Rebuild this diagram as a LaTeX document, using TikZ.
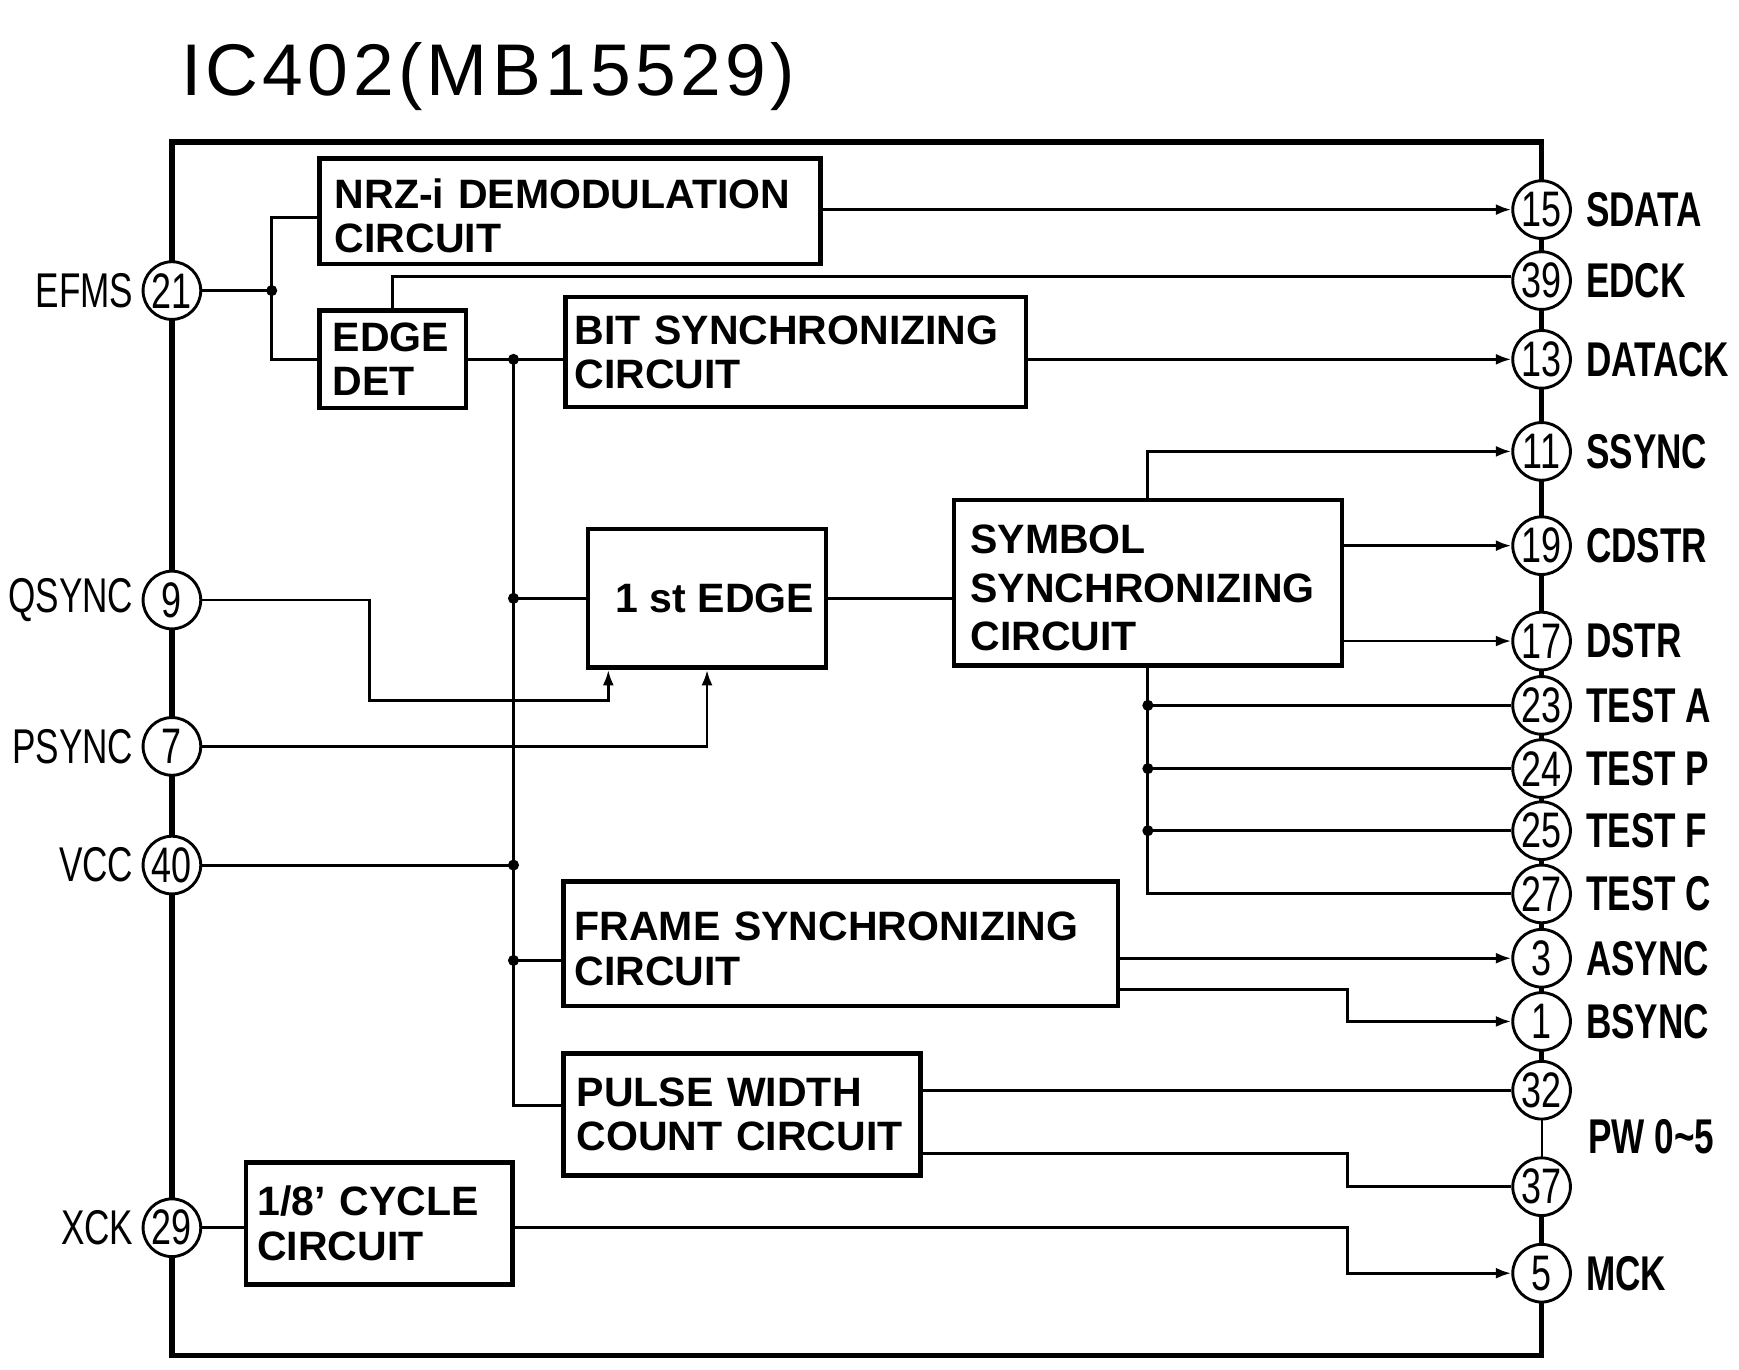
\documentclass[tikz,border=0pt]{standalone}
\usepackage{fontspec}
\setmainfont{Liberation Sans}
\newfontfamily\condfam[FakeStretch=0.72]{Liberation Sans}
\newfontfamily\ttlfam[LetterSpace=6]{Liberation Sans}
\usetikzlibrary{arrows.meta}
\newcommand\myboxfont{\bfseries\fontsize{37}{40}\selectfont}
\newcommand\mypinfont{\condfam\fontsize{45}{48}\selectfont}
\newcommand\myrlabfont{\condfam\bfseries\fontsize{44}{48}\selectfont}
\newcommand\myllabfont{\condfam\fontsize{44}{48}\selectfont}
\newcommand\topstrut{\rule{0pt}{35pt}}
\begin{document}
\begin{tikzpicture}[x=1pt,y=-1pt,
  wire/.style={line width=2.6pt},
  arr/.style={wire,-{Latex[length=14pt,width=10pt]}},
  blk/.style={draw,line width=4pt,align=left,inner ysep=0pt,font=\myboxfont},
  pinc/.style={circle,draw,fill=white,line width=2.6pt,minimum size=52pt,inner sep=0pt,font=\mypinfont},
  rlab/.style={anchor=west,inner sep=0pt,font=\myrlabfont},
  llab/.style={anchor=east,inner sep=0pt,font=\myllabfont}
]
\useasboundingbox (0,0) rectangle (1568,1235);
% title
\node[anchor=base west,inner sep=0pt,font=\ttlfam\fontsize{66}{70}\selectfont] (title) at (163,86) {IC402(MB15529)};
% outer frame
\draw[line width=5pt] (1390,189) |- (155,128) -- (155,1222) -| (1390,1148);
\draw[line width=5pt] (1390,189) -- (1390,983);
\draw[line width=1.8pt] (1390,983) -- (1390,1070);
\draw[line width=5pt] (1390,1070) -- (1390,1148);
% blocks
\node[blk,minimum width=452pt,minimum height=95pt,inner xsep=14pt,text width=424pt] (nrz) at (514,190.5) {\topstrut NRZ-i DEMODULATION\\CIRCUIT};
\node[blk,minimum width=132pt,minimum height=88pt,inner xsep=12pt,text width=108pt] (edge) at (354,324) {EDGE\\DET};
\node[blk,minimum width=415pt,minimum height=99pt,inner xsep=8pt,text width=399pt] (bit) at (717.5,317.5) {BIT SYNCHRONIZING\\CIRCUIT};
\node[blk,minimum width=215pt,minimum height=125pt,inner xsep=0pt,align=center] (first) at (637.5,539.5) {\hspace*{14pt}1 st EDGE};
\node[blk,minimum width=350pt,minimum height=149pt,inner xsep=15pt,text width=320pt,font=\bfseries\fontsize{37}{44}\selectfont] (sym) at (1035,525.5) {\topstrut SYMBOL\\SYNCHRONIZING\\CIRCUIT};
\node[blk,minimum width=500pt,minimum height=112pt,inner xsep=10pt,text width=480pt] (frame) at (758,851) {\topstrut FRAME SYNCHRONIZING\\CIRCUIT};
\node[blk,minimum width=322pt,minimum height=110pt,inner xsep=12pt,text width=298pt] (pulse) at (669,1005) {PULSE WIDTH\\COUNT CIRCUIT};
\node[blk,minimum width=240pt,minimum height=110pt,inner xsep=10pt,text width=220pt] (cyc) at (342,1103) {1/8' CYCLE\\CIRCUIT};
% left pins
\node[pinc] (p21) at (155,262) {21};
\node[pinc] (p9) at (155,541) {9};
\node[pinc] (p7) at (155,673) {7};
\node[pinc] (p40) at (155,780) {40};
\node[pinc] (p29) at (155,1107) {29};
\node[llab] (lEFMS) at (p21.west) {EFMS\,};
\node[llab] (lQSYNC) at (p9.west) {QSYNC\,};
\node[llab] (lPSYNC) at (p7.west) {PSYNC\,};
\node[llab] (lVCC) at (p40.west) {VCC\,};
\node[llab] (lXCK) at (p29.west) {XCK\,};
% right pins
\foreach \n/\y/\t in {15/189/SDATA,39/253/EDCK,13/324/DATACK,11/407/SSYNC,19/492/CDSTR,17/578/DSTR,23/636/TEST A,24/693/TEST P,25/749/TEST F,27/806/TEST C,3/864/ASYNC,1/921/BSYNC,5/1148/MCK}{
  \node[pinc] (p\n) at (1390,\y) {\n};
  \node[rlab] (l\n) at (1430,\y) {\t};
}
\node[pinc] (p32) at (1390,983) {32};
\node[pinc] (p37) at (1390,1070) {37};
\node[rlab] (lPW) at (1432,1025) {PW 0\char`~5};
% junction coordinates
\coordinate (bus) at (463,0);
\coordinate (jE) at (245,262);
\coordinate (jB) at (edge.east -| bus);
\coordinate (jQ) at (first.west -| bus);
\coordinate (jV) at (p40 -| bus);
\coordinate (jF) at (463,866);
\coordinate (q1) at (333,632);
\coordinate (qin) at ([xshift=-89pt]first.south);
\coordinate (b1) at (1215,892);
\coordinate (b37) at (1215,1040);
\coordinate (b5) at (1215,1107);
% wires
\draw[wire] (p21) -- (jE);
\draw[wire] ([yshift=-5.5pt]nrz.west) -| (jE) |- (edge.west);
\draw[arr] (nrz.east |- p15) -- (p15);
\draw[wire] (edge.north) |- ([yshift=4pt]p39.west);
\draw[wire] (edge.east) -- (edge.east -| bit.west);
\draw[arr] (bit.east |- p13) -- (p13);
\draw[wire] (jB) |- ([yshift=8pt]pulse.west);
\draw[wire] (jQ) -- (first.west);
\draw[wire] (p40) -- (jV);
\draw[wire] (jF) -- (jF -| frame.west);
\draw[arr] (p9) -| (q1) -| (qin);
\draw[arr] (p7) -| (first.south);
\draw[wire] (first.east) -- (first.east -| sym.west);
\draw[arr] (sym.north) |- (p11);
\draw[arr] (sym.east |- p19) -- (p19);
\draw[arr] (sym.east |- p17) -- (p17);
\draw[wire] (sym.south) |- (p27);
\foreach \p in {p23,p24,p25}{
  \draw[wire] (sym.south |- \p) -- (\p);
  \fill (sym.south |- \p) circle (5pt);
}
\draw[arr] (frame.east |- p3) -- (p3);
\draw[arr] (frame.east |- b1) -- (b1) |- (p1);
\draw[wire] (pulse.east |- p32) -- (p32);
\draw[wire] (pulse.east |- b37) -- (b37) |- (p37);
\draw[wire] (p29) -- (p29 -| cyc.west);
\draw[arr] (cyc.east |- b5) -- (b5) |- (p5);
% dots
\foreach \c in {jE,jB,jQ,jV,jF}{\fill (\c) circle (5pt);}
\end{tikzpicture}
\end{document}
